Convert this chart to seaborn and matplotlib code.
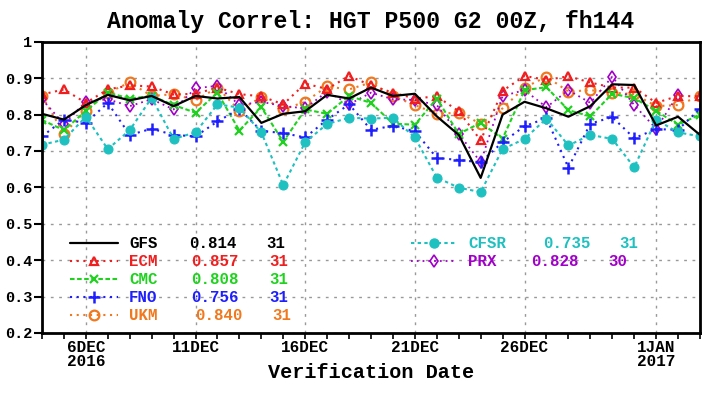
import numpy as np
import pandas as pd
import matplotlib
matplotlib.use("Agg")
import matplotlib.pyplot as plt
import matplotlib.dates as mdates
from matplotlib.lines import Line2D
import seaborn as sns

# ---------------- data ----------------
dates = pd.date_range("2016-12-04", "2017-01-03", freq="D")

gfs = [0.802, 0.786, 0.826, 0.854, 0.839, 0.851, 0.823, 0.851, 0.844, 0.848, 0.777,
       0.802, 0.809, 0.854, 0.844, 0.874, 0.851, 0.857, 0.795, 0.744, 0.626,
       0.800, 0.835, 0.817, 0.794, 0.823, 0.883, 0.881, 0.770, 0.794, 0.744]
ecm = [0.855, 0.869, 0.832, 0.869, 0.880, 0.877, 0.855, 0.857, 0.874, 0.856, 0.850,
       0.828, 0.885, 0.870, 0.906, 0.880, 0.860, 0.844, 0.850, 0.809, 0.729,
       0.865, 0.906, 0.895, 0.905, 0.888, 0.874, 0.874, 0.832, 0.851, 0.850]
cmc = [0.785, 0.757, 0.810, 0.860, 0.844, 0.851, 0.826, 0.805, 0.860, 0.756, 0.820,
       0.725, 0.814, 0.802, 0.851, 0.832, 0.775, 0.772, 0.844, 0.747, 0.777,
       0.734, 0.867, 0.875, 0.812, 0.795, 0.857, 0.845, 0.810, 0.772, 0.800]
fno = [0.740, 0.786, 0.777, 0.832, 0.744, 0.761, 0.744, 0.740, 0.781, 0.815, 0.755,
       0.749, 0.737, 0.786, 0.828, 0.758, 0.769, 0.754, 0.681, 0.675, 0.669,
       0.724, 0.768, 0.790, 0.654, 0.775, 0.793, 0.735, 0.760, 0.758, 0.816]
ukm = [0.851, 0.747, 0.811, 0.860, 0.888, 0.851, 0.856, 0.839, 0.874, 0.811, 0.848,
       0.814, 0.835, 0.877, 0.869, 0.888, 0.851, 0.826, 0.802, 0.805, 0.775,
       0.817, 0.874, 0.904, 0.863, 0.867, 0.860, 0.856, 0.823, 0.826, 0.851]
cfsr = [0.717, 0.731, 0.794, 0.705, 0.757, 0.846, 0.733, 0.751, 0.828, 0.819, 0.751,
        0.606, 0.724, 0.774, 0.791, 0.789, 0.791, 0.737, 0.627, 0.599, 0.587,
        0.705, 0.733, 0.789, 0.715, 0.744, 0.733, 0.655, 0.786, 0.751, 0.740]
prx = [0.842, 0.774, 0.835, 0.842, 0.823, 0.842, 0.814, 0.872, 0.879, 0.826, 0.835,
       0.823, 0.817, 0.863, 0.828, 0.860, 0.842, 0.840, 0.826, 0.747, 0.669,
       0.851, 0.867, 0.820, 0.867, 0.832, 0.904, 0.826, 0.761, 0.854, np.nan]

legend_names = ["GFS", "ECM", "CMC", "FNO", "UKM", "CFSR", "PRX"]
legend_means = ["0.814", "0.857", "0.808", "0.756", "0.840", "0.735", "0.828"]
legend_counts = ["31", "31", "31", "31", "31", "31", "30"]

tick_dates = ["2016-12-06", "2016-12-11", "2016-12-16", "2016-12-21", "2016-12-26", "2017-01-01"]
tick_labels = ["6DEC\n2016", "11DEC", "16DEC", "21DEC", "26DEC", "1JAN\n2017"]
ytick_vals = [0.2, 0.3, 0.4, 0.5, 0.6, 0.7, 0.8, 0.9, 1.0]
ytick_labels = ["0.2", "0.3", "0.4", "0.5", "0.6", "0.7", "0.8", "0.9", "1"]

# ---------------- style ----------------
sns.set_theme(style="white")
FONT = ["Liberation Mono", "DejaVu Sans Mono"]
plt.rcParams["font.family"] = FONT
plt.rcParams["font.weight"] = "bold"
for k in ["text.color", "axes.labelcolor", "xtick.color", "ytick.color"]:
    plt.rcParams[k] = "black"

C_GFS = "#000000"
C_ECM = "#f01e1e"
C_CMC = "#1ed21e"
C_FNO = "#1e1eff"
C_UKM = "#f0781e"
C_CFSR = "#1ec0c0"
C_PRX = "#a000c8"

dot = (0, (1, 2.2))
styles = {
    "GFS": dict(color=C_GFS, linestyle="-", linewidth=1.6, marker=None),
    "ECM": dict(color=C_ECM, linestyle=dot, linewidth=1.5, marker="^", markersize=6,
                markerfacecolor="none", markeredgecolor=C_ECM, markeredgewidth=1.6),
    "CMC": dict(color=C_CMC, linestyle=(0, (2.2, 1.2)), linewidth=1.5, marker="x", markersize=6,
                markeredgecolor=C_CMC, markeredgewidth=1.6),
    "FNO": dict(color=C_FNO, linestyle=dot, linewidth=1.5, marker="+", markersize=8,
                markeredgecolor=C_FNO, markeredgewidth=1.8),
    "UKM": dict(color=C_UKM, linestyle=dot, linewidth=1.5, marker="o", markersize=7,
                markerfacecolor="none", markeredgecolor=C_UKM, markeredgewidth=1.6),
    "CFSR": dict(color=C_CFSR, linestyle=(0, (1.6, 1.6)), linewidth=1.5, marker="o", markersize=6.5,
                 markerfacecolor=C_CFSR, markeredgecolor=C_CFSR),
    "PRX": dict(color=C_PRX, linestyle=dot, linewidth=1.3, marker="d", markersize=6,
                markerfacecolor="none", markeredgecolor=C_PRX, markeredgewidth=1.2),
}
series = {"GFS": gfs, "ECM": ecm, "CMC": cmc, "FNO": fno, "UKM": ukm, "CFSR": cfsr, "PRX": prx}
order = ["UKM", "PRX", "ECM", "CMC", "FNO", "CFSR", "GFS"]

fig = plt.figure(figsize=(7.08, 3.99), dpi=100)
ax = fig.add_axes([42 / 708, 1 - 333 / 399, (700 - 42) / 708, (333 - 41.7) / 399])

for name in order:
    df = pd.DataFrame({"date": dates, "val": series[name]}).dropna()
    sns.lineplot(data=df, x="date", y="val", ax=ax, legend=False, **styles[name])

ax.set_xlim(pd.Timestamp("2016-12-04"), pd.Timestamp("2017-01-03"))
ax.set_ylim(0.2, 1.0)
ax.set_xlabel("Verification Date", fontsize=14.5, fontweight="bold", color="black")
ax.xaxis.label.set_va("center")
ax.xaxis.set_label_coords(0.5, (333 - 372) / 291.3)
ax.set_ylabel("")
ax.set_title("Anomaly Correl: HGT P500 G2 00Z, fh144", fontsize=16.7, fontweight="bold",
             pad=10, color="black")

ax.set_xticks([pd.Timestamp(d) for d in tick_dates])
ax.set_xticklabels(tick_labels, fontsize=11.5, fontweight="bold", linespacing=0.9)
ax.xaxis.set_minor_locator(mdates.DayLocator())
ax.set_yticks(ytick_vals)
ax.set_yticklabels(ytick_labels, fontsize=11, fontweight="bold")

ax.tick_params(axis="x", which="both", direction="out", length=4, width=1.2, colors="black",
               bottom=True, top=False, pad=1)
ax.tick_params(axis="y", which="major", direction="out", length=6, width=1.5, colors="black",
               left=True, right=False, pad=1)
ax.grid(True, which="major", color="#999999", linestyle=(0, (2, 4)), linewidth=1.0)
for sp in ax.spines.values():
    sp.set_color("black")
    sp.set_linewidth(2)
ax.set_axisbelow(True)

# ---------------- custom legend ----------------
def fx(px):
    return px / 708

def fy(py):
    return 1 - py / 399

left_rows = [243, 261, 279, 297, 315]
left_names = legend_names[:5]
left_mean_x = [189, 191, 191, 191, 195]
left_count_x = [266, 269, 269, 269, 272]
right_rows = [243, 261]
right_names = legend_names[5:]
right_mean_x = [543, 531]
right_count_x = [619, 608]


def sample(x0, x1, py, name):
    st = dict(styles[name])
    mk = st.pop("marker")
    ln = Line2D([fx(x0), fx((x0 + x1) / 2), fx(x1)], [fy(py)] * 3, transform=fig.transFigure,
                marker=mk if mk else "", markevery=[1], **st)
    fig.add_artist(ln)


for i, name in enumerate(left_names):
    py = left_rows[i]
    col = styles[name]["color"]
    sample(70, 118, py, name)
    kw = dict(fontsize=11.3, fontweight="bold", color=col, va="center", ha="left")
    fig.text(fx(129), fy(py), name, **kw)
    fig.text(fx(left_mean_x[i]), fy(py), legend_means[i], **kw)
    fig.text(fx(left_count_x[i]), fy(py), legend_counts[i], **kw)

for j, name in enumerate(right_names):
    py = right_rows[j]
    col = styles[name]["color"]
    sample(411, 456, py, name)
    kw = dict(fontsize=11.3, fontweight="bold", color=col, va="center", ha="left")
    fig.text(fx(468), fy(py), name, **kw)
    fig.text(fx(right_mean_x[j]), fy(py), legend_means[5 + j], **kw)
    fig.text(fx(right_count_x[j]), fy(py), legend_counts[5 + j], **kw)

fig.savefig("out.png", dpi=100, facecolor="white")
